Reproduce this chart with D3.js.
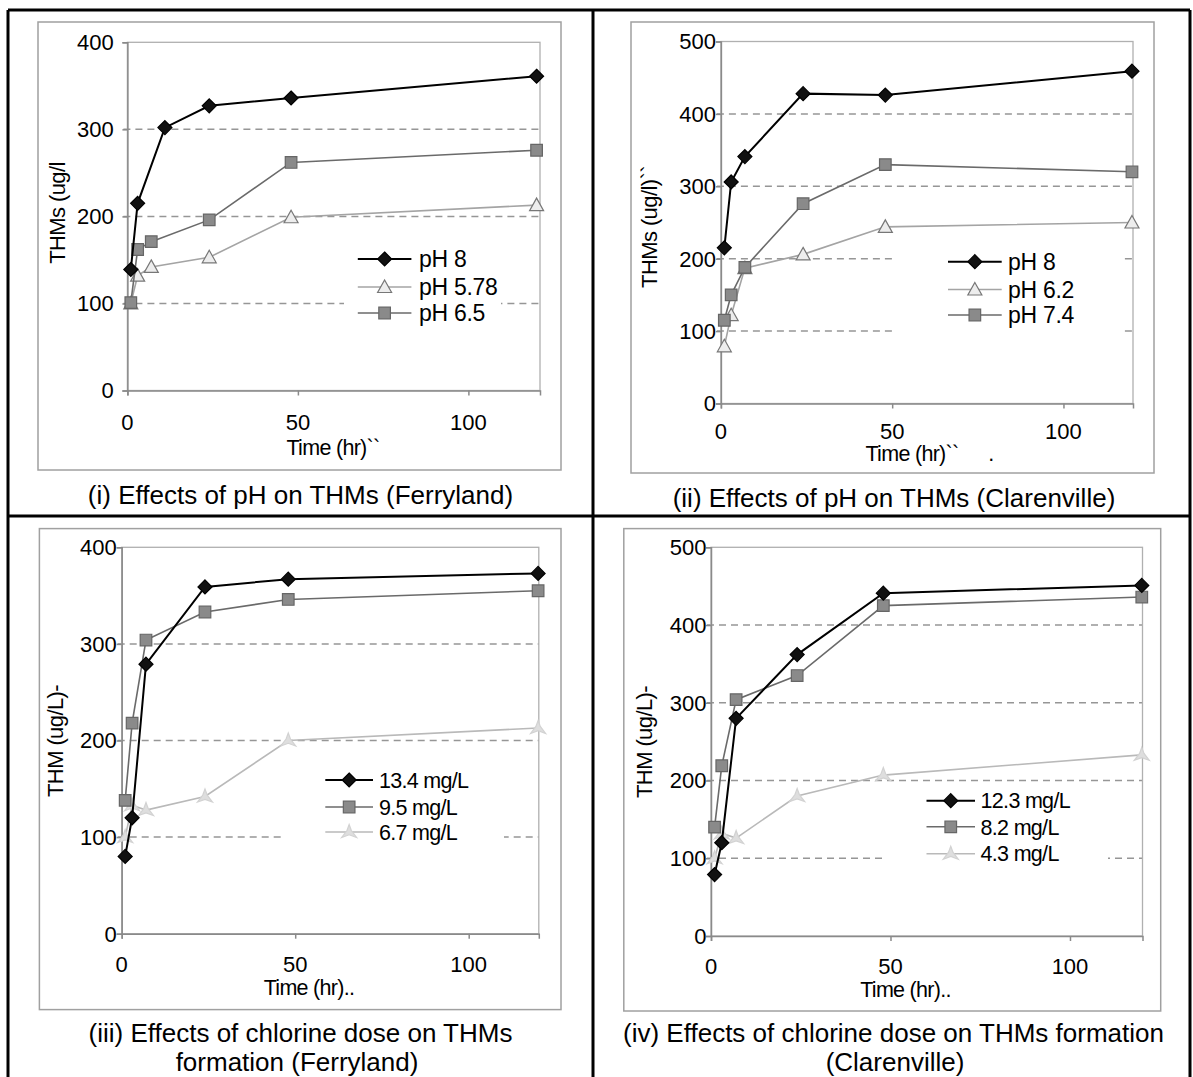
<!DOCTYPE html>
<html><head><meta charset="utf-8">
<script src="https://cdn.jsdelivr.net/npm/d3@7"></script>
<style>
html,body{margin:0;padding:0;background:#fff;}
svg{display:block;font-family:"Liberation Sans",Arial,sans-serif;}
</style></head>
<body>
<svg id="chart" width="1193" height="1077"></svg>
<script>
// ---------------- DATA ----------------
const timesHr = [1, 3, 7, 24, 48, 120];
const timesHrFerryPH8 = [1, 3, 11, 24, 48, 120];
const xTickValues = [0, 50, 100];
const yTicks400 = [0, 100, 200, 300, 400];
const yTicks500 = [0, 100, 200, 300, 400, 500];

// (i) Ferryland, pH
const ferryPH8 = [139, 215, 302, 327, 336, 361];
const ferryPH578 = [100, 132, 142, 153, 199, 213];
const ferryPH65 = [101, 162, 171, 196, 262, 276];
// (ii) Clarenville, pH
const clarPH8 = [215, 306, 341, 428, 426, 459];
const clarPH62 = [79, 122, 187, 206, 244, 250];
const clarPH74 = [115, 150, 188, 276, 330, 320];
// (iii) Ferryland, chlorine dose
const ferryCl134 = [80, 120, 279, 359, 367, 373];
const ferryCl95 = [138, 218, 304, 333, 346, 355];
const ferryCl67 = [100, 133, 128, 142, 200, 213];
// (iv) Clarenville, chlorine dose
const clarCl123 = [79, 120, 280, 362, 441, 451];
const clarCl82 = [140, 219, 304, 335, 425, 436];
const clarCl43 = [100, 132, 126, 180, 207, 233];

const seriesNamesI = ["pH 8", "pH 5.78", "pH 6.5"];
const seriesNamesII = ["pH 8", "pH 6.2", "pH 7.4"];
const seriesNamesIII = ["13.4 mg/L", "9.5 mg/L", "6.7 mg/L"];
const seriesNamesIV = ["12.3 mg/L", "8.2 mg/L", "4.3 mg/L"];

// ---------------- STYLES ----------------
const styles = {
  diamond: {line: "#000", lw: 2, marker: "diamond", fill: "#111", stroke: "#000"},
  square: {line: "#6a6a6a", lw: 1.6, marker: "square", fill: "#8a8a8a", stroke: "#666"},
  triangle: {line: "#a4a4a4", lw: 1.6, marker: "triangle", fill: "#ededed", stroke: "#777"},
  star: {line: "#b9b9b9", lw: 1.6, marker: "star", fill: "#dedede", stroke: "#d2d2d2"}
};

const panels = [
  {
    box: [38, 22, 561, 470], plot: [127.4, 42.3, 540, 390.5], yMax: 400, xMax: 121, yTicks: yTicks400,
    yTitle: "THMs (ug/l", yTitlePos: [57, 213], xTitle: ["Time (hr)``"], xTitlePos: [[333, 447]],
    xTickY: 421.7, yTickRight: 113.7,
    legendBox: [344, 236, 501, 330], legendLine: [357.8, 411.4], legendTextX: 419, legendRows: [259, 287, 313],
    legendFont: [23, -0.3],
    titles: [["(i) Effects of pH on THMs (Ferryland)", 300.5, 495]],
    series: [
      {name: seriesNamesI[0], t: timesHrFerryPH8, v: ferryPH8, s: "diamond"},
      {name: seriesNamesI[1], t: timesHr, v: ferryPH578, s: "triangle"},
      {name: seriesNamesI[2], t: timesHr, v: ferryPH65, s: "square"}
    ], drawOrder: [1, 2, 0]
  },
  {
    box: [631, 22, 1154, 473], plot: [720.9, 41.5, 1133, 403.5], yMax: 500, xMax: 120.3, yTicks: yTicks500,
    yTitle: "THMs (ug/l)``", yTitlePos: [649.5, 227], xTitle: ["Time (hr)``", "."], xTitlePos: [[912, 453.5], [991, 453.5]],
    xTickY: 431, yTickRight: 716,
    legendBox: [896, 244, 1121, 342], legendLine: [948, 1001.7], legendTextX: 1008, legendRows: [261.7, 289.5, 315],
    legendFont: [23, -0.3],
    titles: [["(ii) Effects of pH on THMs (Clarenville)", 894, 498]],
    series: [
      {name: seriesNamesII[0], t: timesHr, v: clarPH8, s: "diamond"},
      {name: seriesNamesII[1], t: timesHr, v: clarPH62, s: "triangle"},
      {name: seriesNamesII[2], t: timesHr, v: clarPH74, s: "square"}
    ], drawOrder: [1, 2, 0]
  },
  {
    box: [39.4, 528.6, 561, 1009.6], plot: [121.7, 547.3, 538.8, 933.7], yMax: 400, xMax: 120.2, yTicks: yTicks400,
    yTitle: "THM (ug/L)-", yTitlePos: [55.5, 741], xTitle: ["Time (hr).."], xTitlePos: [[309, 987]],
    xTickY: 964, yTickRight: 116.7,
    legendBox: [283, 756, 504, 852], legendLine: [325.3, 373], legendTextX: 379, legendRows: [780, 807, 832],
    legendFont: [21.5, -0.7],
    titles: [["(iii) Effects of chlorine dose on THMs", 300.5, 1033], ["formation (Ferryland)", 297, 1062]],
    series: [
      {name: seriesNamesIII[0], t: timesHr, v: ferryCl134, s: "diamond"},
      {name: seriesNamesIII[1], t: timesHr, v: ferryCl95, s: "square"},
      {name: seriesNamesIII[2], t: timesHr, v: ferryCl67, s: "star"}
    ], drawOrder: [2, 1, 0]
  },
  {
    box: [623.8, 528.6, 1160.7, 1011], plot: [711, 547.3, 1142.5, 936], yMax: 500, xMax: 120.2, yTicks: yTicks500,
    yTitle: "THM (ug/L)-", yTitlePos: [643.6, 742], xTitle: ["Time (hr).."], xTitlePos: [[905.5, 989]],
    xTickY: 966, yTickRight: 706.4,
    legendBox: [887, 786, 1108, 870], legendLine: [926.5, 975], legendTextX: 980.6, legendRows: [800.7, 826.8, 853.7],
    legendFont: [21.5, -0.7],
    titles: [["(iv) Effects of chlorine dose on THMs formation", 893.5, 1033], ["(Clarenville)", 895, 1062]],
    series: [
      {name: seriesNamesIV[0], t: timesHr, v: clarCl123, s: "diamond"},
      {name: seriesNamesIV[1], t: timesHr, v: clarCl82, s: "square"},
      {name: seriesNamesIV[2], t: timesHr, v: clarCl43, s: "star"}
    ], drawOrder: [2, 1, 0]
  }
];

// ---------------- DRAW ----------------
const svg = d3.select("#chart");

function markerPath(kind) {
  if (kind === "diamond") return "M0,-7L7,0L0,7L-7,0Z";
  if (kind === "square") return "M-5.8,-5.8H5.8V5.8H-5.8Z";
  if (kind === "triangle") return "M0,-7L7,5.5L-7,5.5Z";
  if (kind === "star") return "M0,-7.5L2.2,-1.5L7.5,5.5L0,2.8L-7.5,5.5L-2.2,-1.5Z";
  return "";
}
function drawMarker(g, x, y, st) {
  g.append("path").attr("d", markerPath(st.marker)).attr("transform", `translate(${x},${y})`)
    .attr("fill", st.fill).attr("stroke", st.stroke).attr("stroke-width", 1.2);
}

panels.forEach(p => {
  const g = svg.append("g");
  g.append("rect").attr("x", p.box[0]).attr("y", p.box[1])
    .attr("width", p.box[2] - p.box[0]).attr("height", p.box[3] - p.box[1])
    .attr("fill", "#fff").attr("stroke", "#a0a0a0").attr("stroke-width", 1.5);

  const x = d3.scaleLinear().domain([0, p.xMax]).range([p.plot[0], p.plot[2]]);
  const y = d3.scaleLinear().domain([0, p.yMax]).range([p.plot[3], p.plot[1]]);

  g.append("g").selectAll("line").data(p.yTicks.filter(d => d > 0 && d < p.yMax)).join("line")
    .attr("x1", p.plot[0] - 4).attr("x2", p.plot[2])
    .attr("y1", d => y(d)).attr("y2", d => y(d))
    .attr("stroke", "#969696").attr("stroke-width", 1.5).attr("stroke-dasharray", "7,5");

  g.append("rect").attr("x", p.plot[0]).attr("y", p.plot[1])
    .attr("width", p.plot[2] - p.plot[0]).attr("height", p.plot[3] - p.plot[1])
    .attr("fill", "none").attr("stroke", "#b0b0b0").attr("stroke-width", 1.3);

  const yAxis = d3.axisLeft(y).tickValues(p.yTicks).tickSize(5).tickFormat("");
  const yg = g.append("g").attr("transform", `translate(${p.plot[0]},0)`).call(yAxis);
  const xAxis = d3.axisBottom(x).tickValues(xTickValues).tickSize(5).tickFormat("");
  const xg = g.append("g").attr("transform", `translate(0,${p.plot[3]})`).call(xAxis);
  [yg, xg].forEach(ax => {
    ax.selectAll("path,line").attr("stroke", "#8a8a8a").attr("stroke-width", 1.5);
  });

  g.append("g").selectAll("text").data(p.yTicks).join("text")
    .attr("x", p.yTickRight).attr("y", d => y(d)).attr("dy", "0.36em")
    .attr("text-anchor", "end").attr("font-size", 22).attr("fill", "#000").text(d => d);
  g.append("g").selectAll("text").data(xTickValues).join("text")
    .attr("x", d => x(d)).attr("y", p.xTickY).attr("dy", "0.36em")
    .attr("text-anchor", "middle").attr("font-size", 22).attr("fill", "#000").text(d => d);

  g.append("text").attr("transform", `translate(${p.yTitlePos[0]},${p.yTitlePos[1]}) rotate(-90)`)
    .attr("dy", "0.36em").attr("text-anchor", "middle").attr("font-size", 22)
    .attr("letter-spacing", -0.6).text(p.yTitle);
  p.xTitle.forEach((t, i) => {
    g.append("text").attr("x", p.xTitlePos[i][0]).attr("y", p.xTitlePos[i][1]).attr("dy", "0.36em")
      .attr("text-anchor", "middle").attr("font-size", 21.5).attr("letter-spacing", -0.7).text(t);
  });

  g.append("rect").attr("x", p.legendBox[0]).attr("y", p.legendBox[1])
    .attr("width", p.legendBox[2] - p.legendBox[0]).attr("height", p.legendBox[3] - p.legendBox[1])
    .attr("fill", "#fff");

  const line = d3.line().x(d => x(d[0])).y(d => y(d[1]));
  p.drawOrder.forEach(i => {
    const s = p.series[i];
    const st = styles[s.s];
    const pts = s.t.map((t, k) => [t, s.v[k]]);
    g.append("path").attr("d", line(pts)).attr("fill", "none")
      .attr("stroke", st.line).attr("stroke-width", st.lw);
    pts.forEach(d => drawMarker(g, x(d[0]), y(d[1]), st));
  });

  p.series.forEach((s, i) => {
    const st = styles[s.s];
    const ly = p.legendRows[i];
    g.append("line").attr("x1", p.legendLine[0]).attr("x2", p.legendLine[1])
      .attr("y1", ly).attr("y2", ly).attr("stroke", st.line).attr("stroke-width", st.lw);
    drawMarker(g, (p.legendLine[0] + p.legendLine[1]) / 2, ly, st);
    g.append("text").attr("x", p.legendTextX).attr("y", ly).attr("dy", "0.36em")
      .attr("font-size", p.legendFont[0]).attr("letter-spacing", p.legendFont[1]).text(s.name);
  });

  p.titles.forEach(t => {
    g.append("text").attr("x", t[1]).attr("y", t[2]).attr("dy", "0.36em")
      .attr("text-anchor", "middle").attr("font-size", 26).text(t[0]);
  });
});

const frame = svg.append("g").attr("stroke", "#000").attr("stroke-width", 3).attr("fill", "none");
frame.append("line").attr("x1", 8).attr("x2", 1190).attr("y1", 10).attr("y2", 10);
frame.append("line").attr("x1", 8).attr("x2", 8).attr("y1", 10).attr("y2", 1077);
frame.append("line").attr("x1", 1190).attr("x2", 1190).attr("y1", 10).attr("y2", 1077);
frame.append("line").attr("x1", 8).attr("x2", 1190).attr("y1", 516).attr("y2", 516);
frame.append("line").attr("x1", 593).attr("x2", 593).attr("y1", 10).attr("y2", 1077);
</script>
</body></html>
